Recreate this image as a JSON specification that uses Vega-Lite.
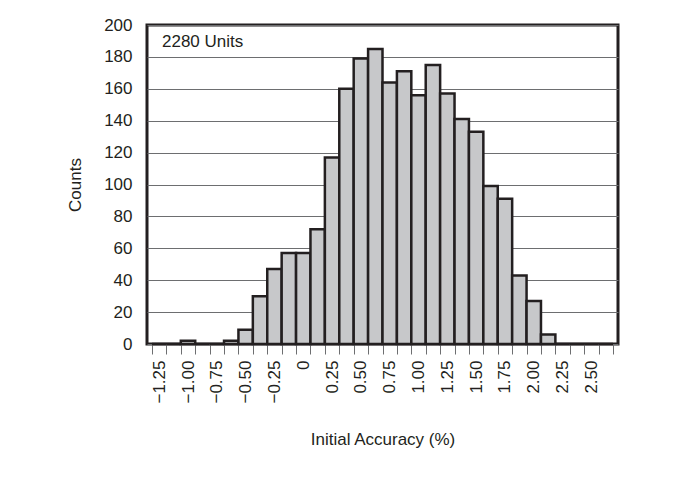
{
  "$schema": "https://vega.github.io/schema/vega-lite/v6.json",
  "width": 471,
  "height": 319,
  "padding": {"left": 66, "top": 16, "right": 5, "bottom": 5},
  "background": "white",
  "config": {
    "font": "Liberation Sans",
    "view": {"stroke": "#231f20", "strokeWidth": 3},
    "axis": {"labelFont": "Liberation Sans", "titleFont": "Liberation Sans", "labelFontSize": 17, "titleFontSize": 17, "titleFontWeight": "normal", "labelColor": "#231f20", "titleColor": "#231f20", "labelOverlap": false}
  },
  "data": {"values": [
    {"from": -1.3125, "to": -1.1875, "count": 0},
    {"from": -1.1875, "to": -1.0625, "count": 0},
    {"from": -1.0625, "to": -0.9375, "count": 2},
    {"from": -0.9375, "to": -0.8125, "count": 0},
    {"from": -0.8125, "to": -0.6875, "count": 0},
    {"from": -0.6875, "to": -0.5625, "count": 2},
    {"from": -0.5625, "to": -0.4375, "count": 9},
    {"from": -0.4375, "to": -0.3125, "count": 30},
    {"from": -0.3125, "to": -0.1875, "count": 47},
    {"from": -0.1875, "to": -0.0625, "count": 57},
    {"from": -0.0625, "to": 0.0625, "count": 57},
    {"from": 0.0625, "to": 0.1875, "count": 72},
    {"from": 0.1875, "to": 0.3125, "count": 117},
    {"from": 0.3125, "to": 0.4375, "count": 160},
    {"from": 0.4375, "to": 0.5625, "count": 179},
    {"from": 0.5625, "to": 0.6875, "count": 185},
    {"from": 0.6875, "to": 0.8125, "count": 164},
    {"from": 0.8125, "to": 0.9375, "count": 171},
    {"from": 0.9375, "to": 1.0625, "count": 156},
    {"from": 1.0625, "to": 1.1875, "count": 175},
    {"from": 1.1875, "to": 1.3125, "count": 157},
    {"from": 1.3125, "to": 1.4375, "count": 141},
    {"from": 1.4375, "to": 1.5625, "count": 133},
    {"from": 1.5625, "to": 1.6875, "count": 99},
    {"from": 1.6875, "to": 1.8125, "count": 91},
    {"from": 1.8125, "to": 1.9375, "count": 43},
    {"from": 1.9375, "to": 2.0625, "count": 27},
    {"from": 2.0625, "to": 2.1875, "count": 6},
    {"from": 2.1875, "to": 2.3125, "count": 0},
    {"from": 2.3125, "to": 2.4375, "count": 0},
    {"from": 2.4375, "to": 2.5625, "count": 0},
    {"from": 2.5625, "to": 2.6875, "count": 0}
  ]},
  "layer": [
    {
      "mark": {"type": "bar", "opacity": 0, "orient": "vertical"},
      "encoding": {
        "x": {"field": "from", "type": "quantitative",
          "scale": {"domain": [-1.3125, 2.6875], "nice": false, "zero": false},
          "axis": {"orient": "bottom", "values": [-1.3125, -1.1875, -1.0625, -0.9375, -0.8125, -0.6875, -0.5625, -0.4375, -0.3125, -0.1875, -0.0625, 0.0625, 0.1875, 0.3125, 0.4375, 0.5625, 0.6875, 0.8125, 0.9375, 1.0625, 1.1875, 1.3125, 1.4375, 1.5625, 1.6875, 1.8125, 1.9375, 2.0625, 2.1875, 2.3125, 2.4375, 2.5625, 2.6875],
            "labels": false, "ticks": true, "tickSize": 10, "tickColor": "#6d6e70", "tickWidth": 1, "domain": false, "grid": false, "title": null}},
        "x2": {"field": "to"}
      }
    },
    {
      "mark": {"type": "bar", "orient": "vertical", "fill": "#c7c8ca", "stroke": "#231f20", "strokeWidth": 2.5},
      "encoding": {
        "x": {"field": "from", "type": "quantitative",
          "axis": {"orient": "bottom", "values": [-1.25, -1, -0.75, -0.5, -0.25, 0, 0.25, 0.5, 0.75, 1, 1.25, 1.5, 1.75, 2, 2.25, 2.5],
            "labelExpr": "datum.value === 0 ? '0' : format(datum.value, '.2f')",
            "labelAngle": 270, "labelPadding": 16, "ticks": false, "domain": false, "grid": false,
            "title": "Initial Accuracy (%)", "titlePadding": 28}},
        "x2": {"field": "to"},
        "y": {"field": "count", "type": "quantitative",
          "scale": {"domain": [0, 200], "nice": false},
          "axis": {"orient": "left", "values": [0, 20, 40, 60, 80, 100, 120, 140, 160, 180, 200], "labelOverlap": false, "grid": true, "gridColor": "#6d6e70", "gridWidth": 1, "ticks": false, "domain": false, "labelPadding": 15, "title": "Counts", "titlePadding": 19}},
        "y2": {"datum": 0}
      }
    },
    {
      "data": {"values": [{"note": "2280 Units"}]},
      "mark": {"type": "text", "align": "left", "baseline": "alphabetic", "dx": 10, "dy": 22, "fontSize": 17, "font": "Liberation Sans", "color": "#231f20"},
      "encoding": {
        "x": {"datum": -1.3125, "type": "quantitative", "axis": null},
        "y": {"datum": 200, "type": "quantitative", "axis": null},
        "text": {"field": "note"}
      }
    }
  ],
  "resolve": {"axis": {"x": "independent", "y": "independent"}}
}
